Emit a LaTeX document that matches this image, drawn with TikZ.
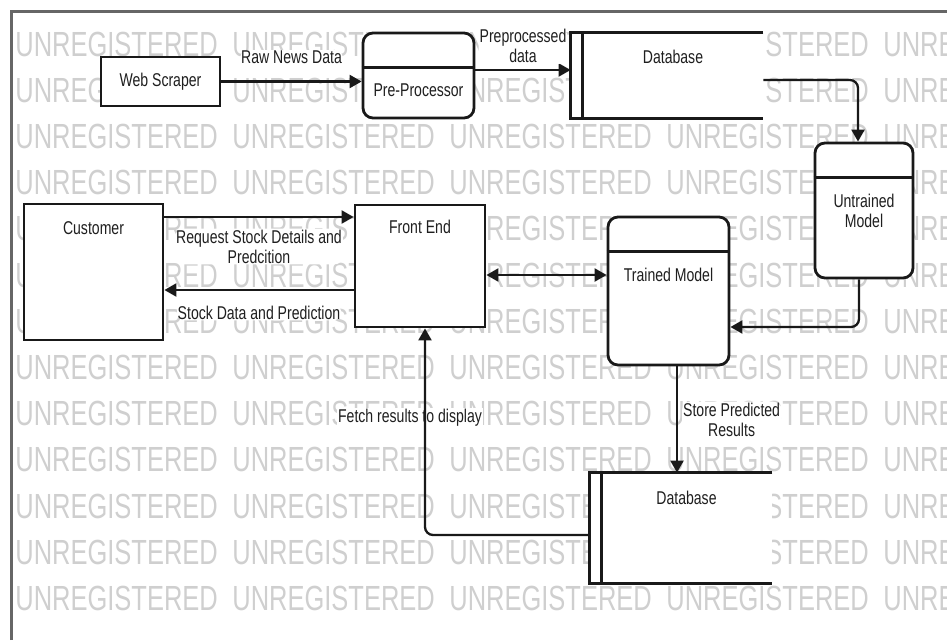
\documentclass[tikz,border=0pt]{standalone}
\usepackage{fontspec}
\setmainfont{Liberation Sans}[FakeStretch=0.76]
\newfontfamily\wmfont{Liberation Sans}[FakeStretch=0.73]
\usetikzlibrary{arrows.meta,positioning}

\begin{document}
\begin{tikzpicture}[x=1pt, y=-1pt, thick, >={Triangle[length=12pt,width=13pt]},
  every node/.style={font=\fontsize{18.5}{20}\selectfont, text=black!88},
  boxnode/.style={draw=black!90, line width=2.8pt, fill=white, inner sep=0pt},
  proc node/.style={boxnode, rounded corners=10pt},
  store node/.style={fill=white, inner sep=0pt},
  lbl/.style={fill=white, inner sep=1pt, align=center},
  flow/.style={line width=2.3pt, draw=black!90, ->, rounded corners=8pt},
  wm/.style={font=\wmfont\fontsize{34.9}{36}\selectfont, text=black!19, anchor=base west, inner sep=0pt}]

\useasboundingbox (0,0) rectangle (947,640);

% watermark
\begin{scope}
\clip (12.5,12.5) rectangle (947,640);
\foreach \r in {0,...,12}
  \foreach \c in {0,...,4}
    \node[wm] (wm-\r-\c) at (15+217*\c, 56+46.2*\r) {UNREGISTERED};
\end{scope}
\draw[line width=3pt, black!60] (11,640) -- (11,11) -- (947,11);

\node[boxnode, minimum width=119pt, minimum height=49pt] (web) at (160.5,81.5) {Web Scraper};
\node[proc node, minimum width=111pt, minimum height=85pt] (pre) at (418.5,75.5) {};
\node (pretxt) at ([yshift=-14.5pt]pre.center) {Pre-Processor};
\node[store node, minimum width=192pt, minimum height=85pt] (db1) at (667,75.5) {};
\node (db1txt) at ([xshift=6pt,yshift=-24.5pt]db1.north) {Database};
\node[proc node, align=center, minimum width=98pt, minimum height=135pt] (untr) at (864,210.5) {Untrained\\Model};
\node[proc node, minimum width=121pt, minimum height=148pt] (trained) at (668.5,291) {};
\node (trtxt) at ([yshift=16pt]trained.center) {Trained Model};
\node[boxnode, minimum width=130pt, minimum height=122pt] (front) at (420,266) {};
\node (fronttxt) at ([yshift=-23.5pt]front.north) {Front End};
\node[boxnode, minimum width=139pt, minimum height=136pt] (cust) at (93.5,272) {};
\node (custtxt) at ([yshift=-26pt]cust.north) {Customer};
\node[store node, minimum width=182pt, minimum height=110pt] (db2) at (681,528) {};
\node (db2txt) at ([xshift=5.5pt,yshift=-25pt]db2.north) {Database};

% compartments and stores
\foreach \p in {pre,untr,trained}
  \draw[line width=2.8pt, black!90] ([yshift=-35.5pt]\p.north west) -- ([yshift=-35.5pt]\p.north east);
\foreach \s in {db1,db2} {
  \draw[line width=2.8pt, black!90] (\s.north east) -- (\s.north west) -- (\s.south west) -- (\s.south east);
  \draw[line width=2.8pt, black!90] ([xshift=12pt]\s.north west) -- ([xshift=12pt]\s.south west);
}

\node[lbl] (fetchlbl) at (410,418) {Fetch results to display};

\draw[flow] (web.east) -- (web.east -| pre.west)
    node[lbl, midway, yshift=24pt] {Raw News Data};
\draw[flow] ([yshift=5.5pt]pre.east) -- ([yshift=5.5pt]pre.east -| db1.west)
    node[lbl, midway, yshift=24pt] {Preprocessed\\data};
\draw[flow] ([yshift=-4.5pt]db1.east) -| ([xshift=-6pt]untr.north);
\draw[flow] ([xshift=-5pt]untr.south) |- ([yshift=-36pt]trained.east);
\draw[flow, <->] ([yshift=-9pt]front.east) -- ([yshift=-9pt]front.east -| trained.west);
\draw[flow] ([yshift=55pt]cust.east) -- ([yshift=55pt]cust.east -| front.west)
    node[lbl, midway, yshift=-29.5pt] {Request Stock Details and\\Predcition};
\draw[flow] ([yshift=-24pt]front.west) -- ([yshift=-24pt]front.west -| cust.east)
    node[lbl, midway, yshift=-22.5pt] {Stock Data and Prediction};
\draw[flow] ([xshift=8.5pt]trained.south) -- ([xshift=8.5pt]trained.south |- db2.north)
    node[lbl, midway, right=4pt] {Store Predicted\\Results};
\draw[flow] ([yshift=-7pt]db2.west) -| ([xshift=5pt]front.south);

\end{tikzpicture}
\end{document}
